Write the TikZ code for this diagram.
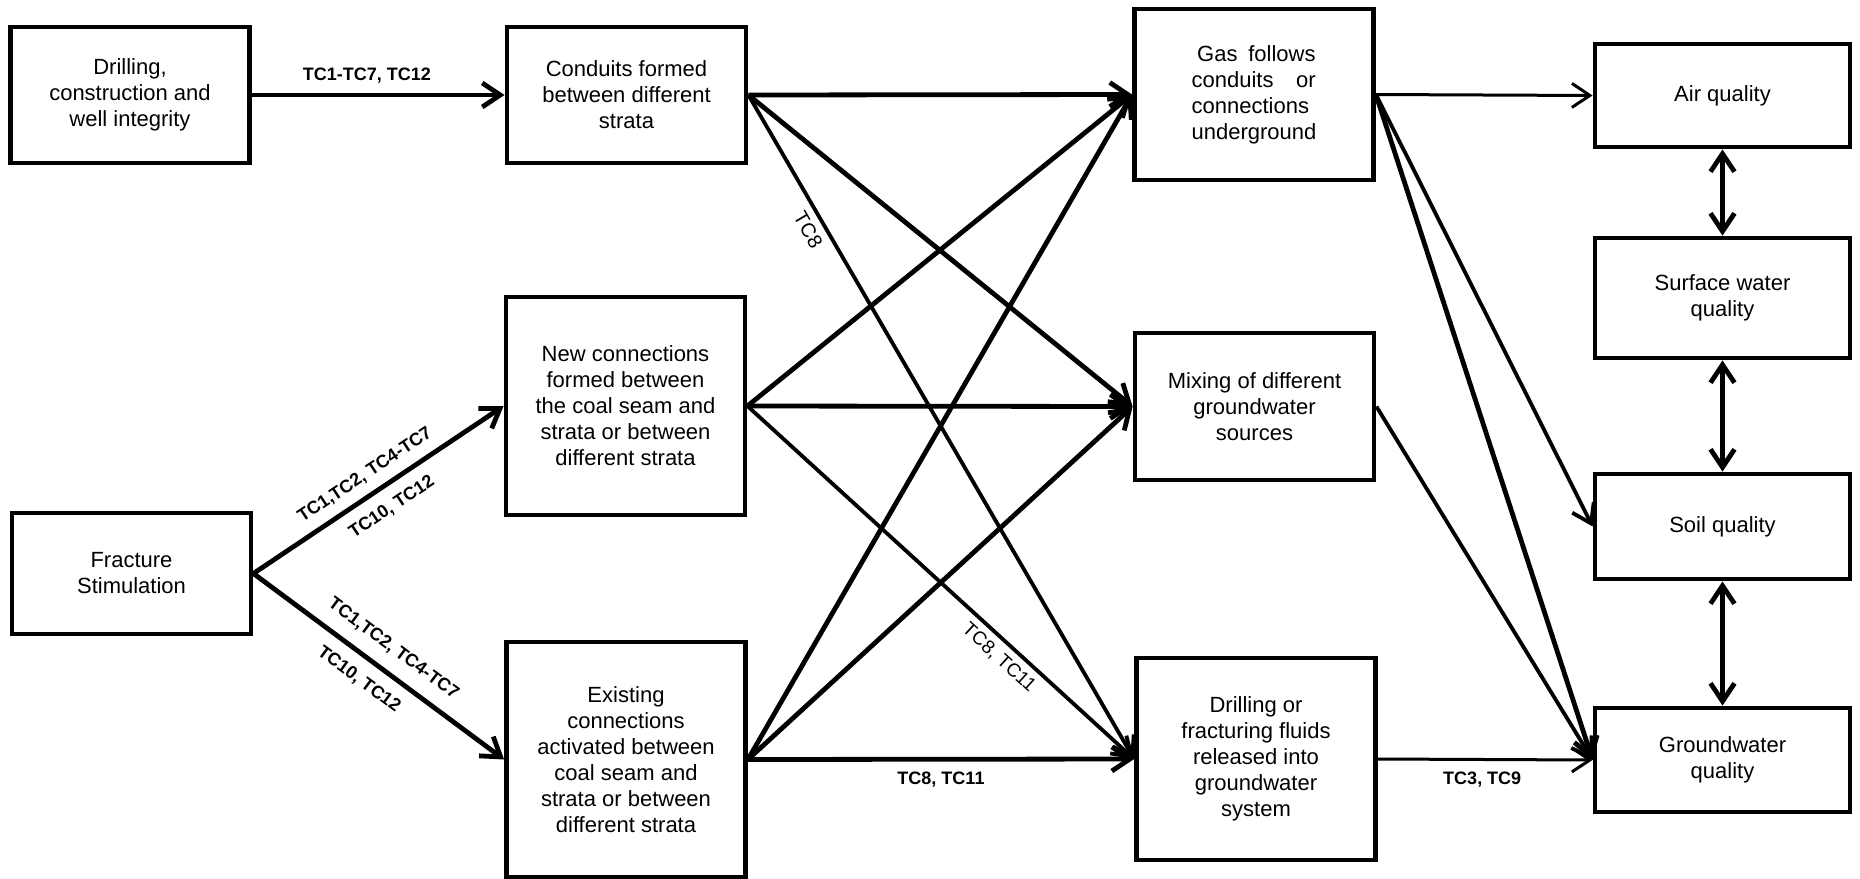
\documentclass[tikz,border=0pt]{standalone}
\usepackage{fontspec}
\setmainfont{Liberation Sans}
\usetikzlibrary{arrows.meta}
\begin{document}
\begin{tikzpicture}[x=0.5pt,y=-0.5pt,
  box/.style={draw=black, line width=2.4pt, align=center, inner sep=0pt,
    font=\fontsize{11}{13}\selectfont},
  lbox/.style={box, minimum width=119.5pt},
  rbox/.style={box, minimum width=127.5pt},
  tip/.style={-{Straight Barb[length=9pt,width=12pt]}},
  thick arr/.style={tip, line width=2.4pt},
  mid arr/.style={tip, line width=1.9pt},
  thin arr/.style={tip, line width=1.5pt},
  dbl/.style={{Straight Barb[length=9pt,width=12pt]}-{Straight Barb[length=9pt,width=12pt]}, line width=2.4pt},
  lab/.style={inner sep=0pt, font=\bfseries\fontsize{9}{10}\selectfont},
  rlab/.style={inner sep=0pt, font=\fontsize{9.5}{10}\selectfont}
]
\useasboundingbox (0,0) rectangle (1860,879);

% left column
\node[lbox, minimum height=68pt] (drill) at (130,95) {Drilling,\\construction and\\well integrity};
\node[lbox, minimum height=60.5pt] (frac) at (131.5,573.5) {Fracture\\Stimulation};

% second column
\node[lbox, minimum height=68pt] (cond) at (626.5,95) {Conduits formed\\between different\\strata};
\node[lbox, minimum height=109pt] (newc) at (625.5,406) {New connections\\formed between\\the coal seam and\\strata or between\\different strata};
\node[lbox, minimum height=117.5pt] (exist) at (626,759.5) {Existing\\connections\\activated between\\coal seam and\\strata or between\\different strata};

% third column
\node[lbox, minimum height=85.5pt, align=left] (gas) at (1254,94.5)
  {\hbox to 62pt{\hspace*{2.8pt}Gas\hfill follows}\\\hbox to 62pt{conduits\hfill or}\\connections\\underground};
\node[lbox, minimum height=73.5pt] (mix) at (1254.5,406.5) {Mixing of different\\groundwater\\sources};
\node[lbox, minimum height=101pt] (fluid) at (1256,759) {Drilling or\\fracturing fluids\\released into\\groundwater\\system};

% right column
\node[rbox, minimum height=51.5pt] (air) at (1722.5,95.5) {Air quality};
\node[rbox, minimum height=60pt] (surf) at (1722.5,298) {Surface water\\quality};
\node[rbox, minimum height=52.5pt] (soil) at (1722.5,526.5) {Soil quality};
\node[rbox, minimum height=52pt] (ground) at (1722.5,760) {Groundwater\\quality};

% connectors column 1 -> 2
\draw[thick arr] (drill.east) -- node[lab, pos=0.455, yshift=9.5pt] {TC1-TC7, TC12} (cond.west);
\draw[thick arr] (frac.east) -- node[lab, sloped, pos=0.49, yshift=9.8pt] {TC1,TC2, TC4-TC7}
  node[lab, sloped, pos=0.505, yshift=-11pt] {TC10, TC12} (newc.west);
\draw[thick arr] (frac.east) -- node[lab, sloped, pos=0.504, yshift=11.5pt] {TC1,TC2, TC4-TC7}
  node[lab, sloped, pos=0.474, yshift=-11.2pt] {TC10, TC12} (exist.west);

% connectors column 2 -> 3
\draw[thick arr] (cond.east) -- (gas.west);
\draw[thick arr] (cond.east) -- (mix.west);
\draw[mid arr] (cond.east) -- node[rlab, sloped, pos=0.191, yshift=-8pt, font=\fontsize{10}{10}\selectfont] {TC8} (fluid.west);
\draw[thick arr] (newc.east) -- (gas.west);
\draw[thick arr] (newc.east) -- (mix.west);
\draw[mid arr] (newc.east) -- node[rlab, sloped, pos=0.679, yshift=-8.2pt] {TC8, TC11} (fluid.west);
\draw[thick arr] (exist.east) -- (gas.west);
\draw[thick arr] (exist.east) -- (mix.west);
\draw[thick arr] (exist.east) -- node[lab, pos=0.5, yshift=-10pt] {TC8, TC11} (fluid.west);

% connectors column 3 -> 4
\draw[thin arr] (gas.east) -- (air.west);
\draw[mid arr] (gas.east) -- (soil.west);
\draw[thick arr] (gas.east) -- (ground.west);
\draw[mid arr] (mix.east) -- (ground.west);
\draw[thin arr] (fluid.east) -- node[lab, pos=0.486, yshift=-10pt] {TC3, TC9} (ground.west);

% right column double arrows
\draw[dbl] (air.south) -- (surf.north);
\draw[dbl] (surf.south) -- (soil.north);
\draw[dbl] (soil.south) -- (ground.north);
\end{tikzpicture}
\end{document}
